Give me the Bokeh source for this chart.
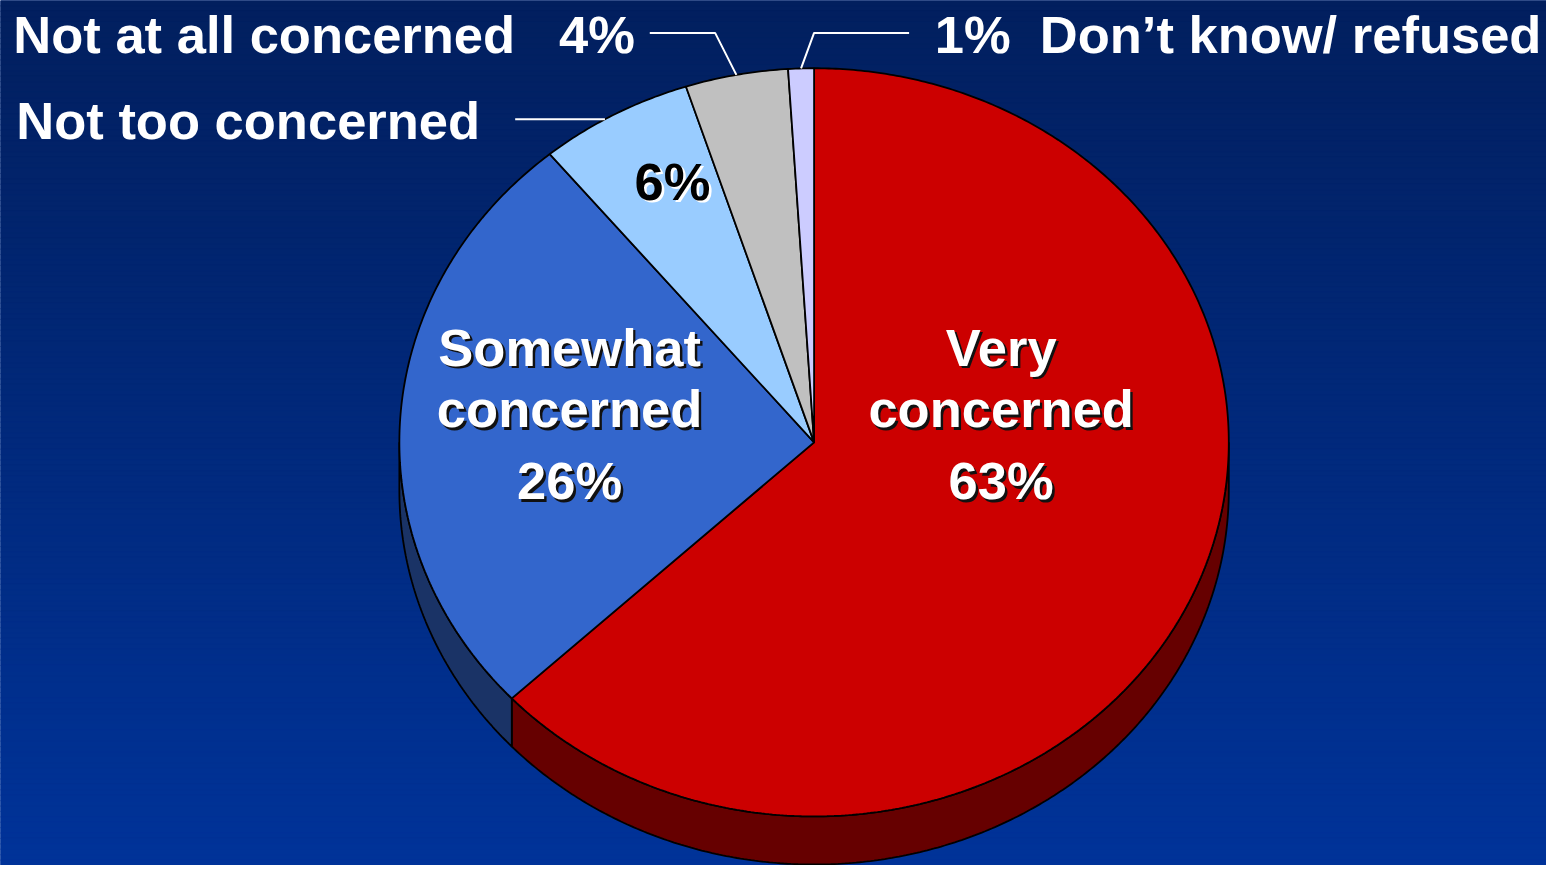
import numpy as np
from bokeh.plotting import figure
from bokeh.models import Range1d
from bokeh.core.properties import value
from bokeh.embed import file_html
from bokeh.resources import INLINE

# ---------------- data ----------------
categories = ["Very concerned", "Somewhat concerned", "Not too concerned",
              "Not at all concerned", "Don\u2019t know/ refused"]
values = [63, 26, 6, 4, 1]
pct_labels = ["63%", "26%", "6%", "4%", "1%"]
top_colors = ["#CC0000", "#3366CC", "#99CCFF", "#C0C0C0", "#CCCCFF"]
side_colors = ["#660000", "#1A3366", "#4D6680", "#606060", "#666680"]

# ---------------- figure ----------------
W, H = 1562, 881
p = figure(width=1546, height=865, x_range=Range1d(0, W), y_range=Range1d(H, 0),
           output_backend="svg", toolbar_location=None, min_border=0)
p.axis.visible = False
p.grid.visible = False
p.outline_line_color = None
p.background_fill_color = "#003399"
p.border_fill_color = "#003399"

# background gradient (style only)
n = 160
edges = np.linspace(0, H, n + 1)
c_top = np.array([2, 31, 94], dtype=float)
c_bot = np.array([0, 51, 153], dtype=float)
cols = []
for i in range(n):
    t = (i + 0.5) / n
    c = c_top * (1 - t) + c_bot * t
    cols.append("#%02x%02x%02x" % tuple(int(round(v)) for v in c))
p.quad(left=0, right=W, top=list(edges[:-1]), bottom=list(edges[1:]),
       fill_color=cols, line_color=cols, line_width=1)

# ---------------- pie geometry ----------------
cx, cy = 822.0, 450.0
rx, ry = 419.0, 381.0
depth = 49.0

vals = np.array(values, dtype=float)
frac = vals / vals.sum()
cum = np.concatenate([[0.0], np.cumsum(frac)])
starts = 90.0 - 360.0 * cum[:-1]   # degrees, math orientation
ends = 90.0 - 360.0 * cum[1:]


def pt(theta_deg, dy=0.0):
    th = np.radians(theta_deg)
    return cx + rx * np.cos(th), cy - ry * np.sin(th) + dy


def arc(a, b, dy=0.0):
    m = max(2, int(abs(a - b) / 0.5) + 1)
    th = np.linspace(a, b, m)
    x, y = pt(th, dy)
    return list(x), list(y)


# side walls (front half only)
wall_xs, wall_ys, wall_cols = [], [], []
for i in range(len(vals)):
    lo, hi = ends[i], starts[i]
    for k in (-1, 0, 1):
        a0, a1 = -180.0 + 360.0 * k, 0.0 + 360.0 * k
        s, e = max(lo, a0), min(hi, a1)
        if e - s > 1e-6:
            tx, ty = arc(s, e)
            bx, by = arc(e, s, depth)
            wall_xs.append(tx + bx)
            wall_ys.append(ty + by)
            wall_cols.append(side_colors[i])
p.patches(wall_xs, wall_ys, fill_color=wall_cols, line_color="black", line_width=1.8)

# top faces
face_xs, face_ys = [], []
for i in range(len(vals)):
    ax_, ay_ = arc(starts[i], ends[i])
    face_xs.append([cx] + ax_)
    face_ys.append([cy] + ay_)
p.patches(face_xs, face_ys, fill_color=top_colors, line_color="black", line_width=1.8)

# ---------------- labels ----------------
FONT = value("Liberation Sans")
FS = "52.5px"


def label(x, y, txt, color="white", shadow="#111111", align="center"):
    # y is the visual centre of capital letters
    if shadow is not None:
        p.text(x=[x + 2.5], y=[y + 2.5], text=[txt], text_color=shadow,
               text_font=FONT, text_font_style="bold", text_font_size=FS,
               text_align=align, text_baseline="middle")
    p.text(x=[x], y=[y], text=[txt], text_color=color,
           text_font=FONT, text_font_style="bold", text_font_size=FS,
           text_align=align, text_baseline="middle")


# inside labels
for i, xc in ((0, 1011), (1, 575)):
    words = categories[i].split(" ")
    lines = words + [pct_labels[i]]
    for ln, yc in zip(lines, (353, 416, 489)):
        label(xc, yc, ln)
label(679, 184, pct_labels[2], color="black", shadow="white")

# outside labels
label(13, 35, categories[3], shadow=None, align="left")
label(641, 35, pct_labels[3], shadow=None, align="right")
label(16, 122, categories[2], shadow=None, align="left")
label(944, 35, pct_labels[4], shadow=None, align="left")
label(1050, 35, categories[4], shadow=None, align="left")

# leader lines
m3 = (starts[3] + ends[3]) / 2
x3, y3 = pt(m3)
p.line([656, 722, x3], [33, 33, y3], line_color="white", line_width=2)
m4 = (starts[4] + ends[4]) / 2
x4, y4 = pt(m4)
p.line([918, 822, x4], [33, 33, y4], line_color="white", line_width=2)
yl = 121.0
xl = cx - rx * np.sqrt(1 - ((cy - yl) / ry) ** 2)
p.line([520, xl], [yl, yl], line_color="white", line_width=2)

open("out.html", "w").write(file_html(p, INLINE))
